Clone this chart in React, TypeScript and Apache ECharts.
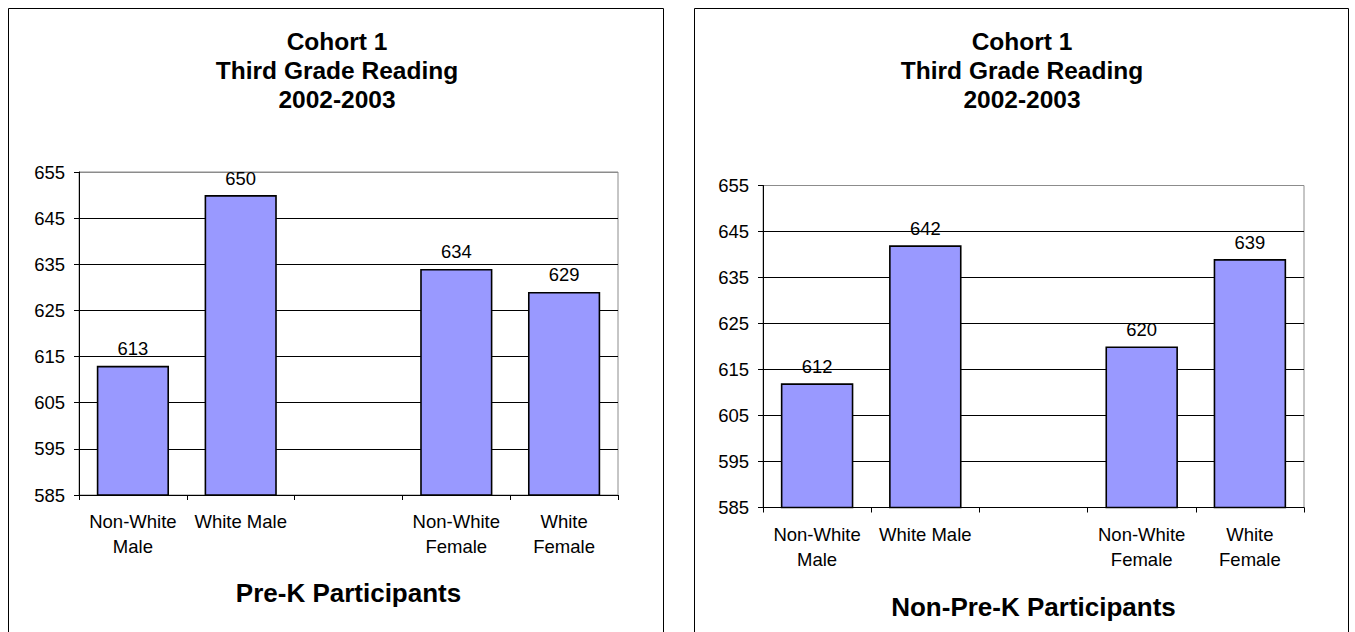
import React, { useEffect, useRef } from "react";
import * as echarts from "echarts";

// Group labels along the horizontal axis (the empty slot separates males from females)
const categories = ["Non-White\nMale", "White Male", "", "Non-White\nFemale", "White\nFemale"];
// Mean scale scores, third grade reading 2002-2003
const preKScores = [613, 650, null, 634, 629];
const nonPreKScores = [612, 642, null, 620, 639];
const chartTitle = "Cohort 1\nThird Grade Reading\n2002-2003";
const panelNames = ["Pre-K Participants", "Non-Pre-K Participants"];
const yMin = 585;
const yMax = 655;
const yStep = 10;

const FONT = "'Liberation Sans', Arial, Helvetica, sans-serif";

// Gridlines are black; the topmost one doubles as the grey plot-area border
const gridLineColors = ["#000", "#000", "#000", "#000", "#000", "#000", "#000", "#8c8c8c"];

export default function App() {
  const ref = useRef<HTMLDivElement>(null);

  useEffect(() => {
    if (!ref.current) return;
    const chart = echarts.init(ref.current, undefined, { renderer: "svg" });

    const panels = [
      { left: 79, top: 172, width: 539, height: 323, cx: 337, gap: 85, data: preKScores },
      { left: 763, top: 185.5, width: 541, height: 322, cx: 1022, gap: 86, data: nonPreKScores },
    ];

    chart.setOption({
      animation: false,
      backgroundColor: "#ffffff",
      textStyle: { fontFamily: FONT },
      title: panels.map((p) => ({
        text: chartTitle,
        left: p.cx,
        top: 27,
        padding: 0,
        textAlign: "center",
        textStyle: {
          fontFamily: FONT,
          fontSize: 24.5,
          fontWeight: "bold",
          color: "#000",
          lineHeight: 29,
        },
      })),
      graphic: [
        {
          type: "rect",
          shape: { x: 8.5, y: 8.5, width: 655, height: 640 },
          style: { fill: "none", stroke: "#000", lineWidth: 1 },
          z: -1,
        },
        {
          type: "rect",
          shape: { x: 694.5, y: 8.5, width: 654, height: 640 },
          style: { fill: "none", stroke: "#000", lineWidth: 1 },
          z: -1,
        },
      ],
      grid: panels.map((p) => ({
        left: p.left,
        top: p.top,
        width: p.width,
        height: p.height,
        show: true,
        borderColor: "#8c8c8c",
        borderWidth: 1,
        containLabel: false,
      })),
      xAxis: panels.map((p, i) => ({
        type: "category",
        gridIndex: i,
        data: categories,
        name: panelNames[i],
        nameLocation: "middle",
        nameGap: p.gap,
        nameTextStyle: { fontFamily: FONT, fontSize: 26, fontWeight: "bold", color: "#000" },
        axisLine: { show: true, lineStyle: { color: "#000", width: 1 } },
        axisTick: { show: true, alignWithLabel: false, length: 5, lineStyle: { color: "#000" } },
        axisLabel: {
          fontFamily: FONT,
          fontSize: 18.5,
          color: "#000",
          lineHeight: 25,
          margin: 14,
          interval: 0,
        },
        splitLine: { show: false },
      })),
      yAxis: panels.map((p, i) => ({
        type: "value",
        gridIndex: i,
        min: yMin,
        max: yMax,
        interval: yStep,
        axisLine: { show: true, lineStyle: { color: "#000", width: 1 } },
        axisTick: { show: true, length: 5, lineStyle: { color: "#000" } },
        axisLabel: { fontFamily: FONT, fontSize: 18.5, color: "#000", margin: 14 },
        splitLine: { show: true, lineStyle: { color: gridLineColors, width: 1 } },
      })),
      series: panels.map((p, i) => ({
        type: "bar",
        xAxisIndex: i,
        yAxisIndex: i,
        data: p.data,
        barCategoryGap: "33%",
        itemStyle: { color: "#9999FF", borderColor: "#000", borderWidth: 1.6 },
        label: {
          show: true,
          position: "top",
          distance: 8,
          fontFamily: FONT,
          fontSize: 18.4,
          color: "#000",
        },
      })),
    });

    return () => chart.dispose();
  }, []);

  return (
    <div
      ref={ref}
      style={{ position: "absolute", left: 0, top: 0, width: 1355, height: 632 }}
    />
  );
}
